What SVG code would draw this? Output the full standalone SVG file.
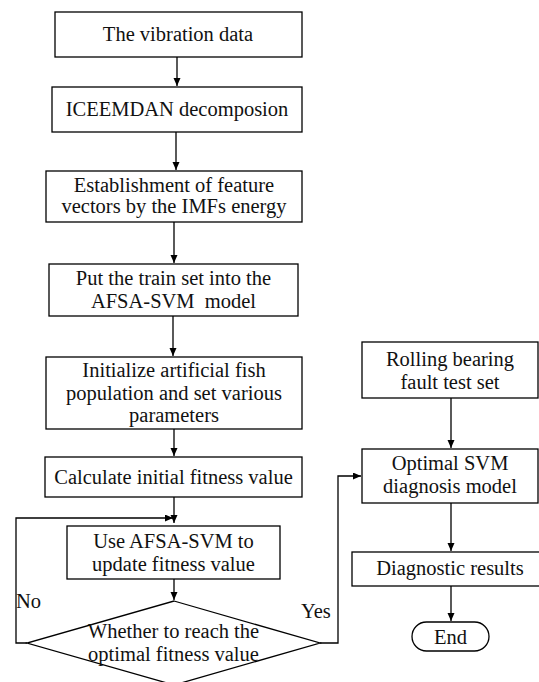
<svg xmlns="http://www.w3.org/2000/svg" width="539" height="682" viewBox="0 0 539 682">
<style>
.box{fill:#fff;stroke:#000;stroke-width:1.3}
.t{font-family:"Liberation Serif","Times New Roman",serif;font-size:20.5px;fill:#111;text-anchor:middle}
.tl{font-family:"Liberation Serif","Times New Roman",serif;font-size:20.5px;fill:#111}
.c{fill:none;stroke:#000;stroke-width:1.3}
</style>
<defs>
<marker id="ah" markerUnits="userSpaceOnUse" markerWidth="9" markerHeight="8" refX="8" refY="3.5" orient="auto">
<path d="M0,0 L8,3.5 L0,7 z" fill="#000"/>
</marker>
</defs>
<rect width="539" height="682" fill="#fff"/>
<g id="connectors">
<path class="c" d="M177,57 V86" marker-end="url(#ah)"/>
<path class="c" d="M176,132 V170" marker-end="url(#ah)"/>
<path class="c" d="M174,222 V263" marker-end="url(#ah)"/>
<path class="c" d="M173,316 V356" marker-end="url(#ah)"/>
<path class="c" d="M174,429 V456" marker-end="url(#ah)"/>
<path class="c" d="M174,497 V523" marker-end="url(#ah)"/>
<path class="c" d="M174,579 V600" marker-end="url(#ah)"/>
<path class="c" d="M27,643 H16 V518 H173" marker-end="url(#ah)"/>
<path class="c" d="M320,643 H338 V476 H361" marker-end="url(#ah)"/>
<path class="c" d="M451,398 V448" marker-end="url(#ah)"/>
<path class="c" d="M451,503 V551" marker-end="url(#ah)"/>
<path class="c" d="M451,586 V621" marker-end="url(#ah)"/>
<text class="tl" x="16" y="608">No</text>
<text class="tl" x="301" y="618">Yes</text>
</g>
<g id="n1"><rect class="box" x="55" y="12" width="247" height="45"/><text class="t" x="178" y="41">The vibration data</text></g>
<g id="n2"><rect class="box" x="52" y="87" width="250" height="45"/><text class="t" x="177" y="116">ICEEMDAN decomposion</text></g>
<g id="n3"><rect class="box" x="46" y="171" width="256" height="51"/><text class="t" x="174" y="192">Establishment of feature</text><text class="t" x="174" y="213">vectors by the IMFs energy</text></g>
<g id="n4"><rect class="box" x="49" y="264" width="249" height="52"/><text class="t" x="173.5" y="285">Put the train set into the</text><text class="t" x="173.5" y="308">AFSA-SVM&#160; model</text></g>
<g id="n5"><rect class="box" x="46" y="357" width="256" height="72"/><text class="t" x="174" y="377">Initialize artificial fish</text><text class="t" x="174" y="400">population and set various</text><text class="t" x="174" y="422">parameters</text></g>
<g id="n6"><rect class="box" x="45" y="457" width="257" height="40"/><text class="t" x="173.5" y="484">Calculate initial fitness value</text></g>
<g id="n7"><rect class="box" x="67" y="526" width="213" height="53"/><text class="t" x="173.5" y="548">Use AFSA-SVM to</text><text class="t" x="173.5" y="571">update fitness value</text></g>
<g id="n8"><polygon class="box" points="174,601 320,643 174,685 27,643"/><text class="t" x="173.5" y="638">Whether to reach the</text><text class="t" x="173.5" y="661">optimal fitness value</text></g>
<g id="n9"><rect class="box" x="362" y="342" width="176" height="56"/><text class="t" x="450" y="366">Rolling bearing</text><text class="t" x="450" y="389">fault test set</text></g>
<g id="n10"><rect class="box" x="362" y="449" width="176" height="54"/><text class="t" x="450" y="470">Optimal SVM</text><text class="t" x="450" y="493">diagnosis model</text></g>
<g id="n11"><rect class="box" x="352" y="552" width="200" height="34"/><text class="t" x="450" y="575">Diagnostic results</text></g>
<g id="n12"><rect class="box" x="412" y="622" width="77" height="29" rx="14.5" ry="14.5"/><text class="t" x="450.5" y="644">End</text></g>
</svg>
